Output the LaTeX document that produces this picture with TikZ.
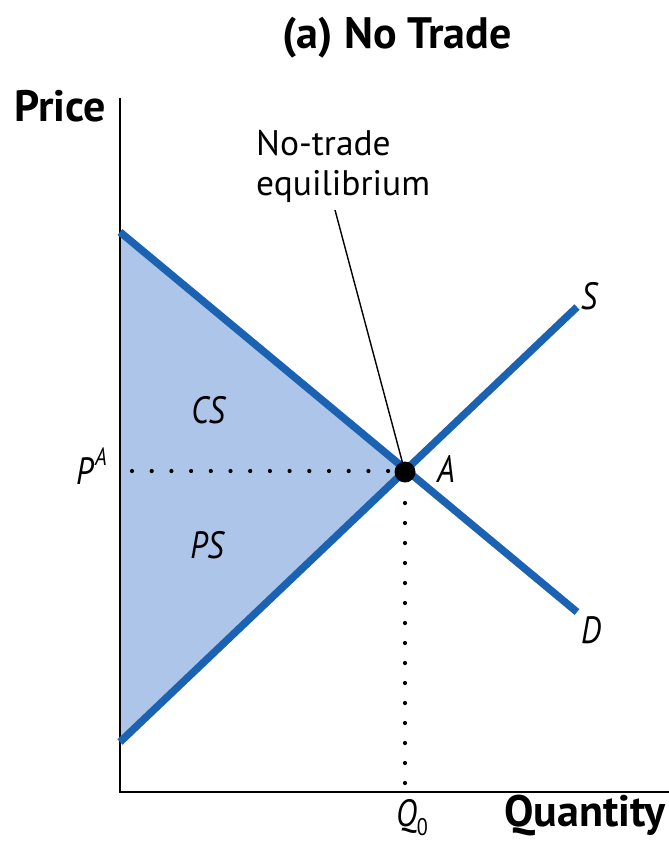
\documentclass[tikz,border=0pt]{standalone}
\usepackage{fontspec}
\setmainfont{PT Sans}
\newfontfamily\labfont{PT Sans}[FakeStretch=0.84]
\begin{document}
\begin{tikzpicture}[x=1pt,y=-1pt,
  curve/.style={line width=7.5pt,draw={rgb,255:red,27;green,99;blue,178}},
  axisline/.style={line width=1.5pt,black},
  dotline/.style={line width=4.2pt,dash pattern=on 0pt off 19.7pt,line cap=round},
  lbl/.style={font=\labfont\fontsize{38}{40}\selectfont\itshape,inner sep=0pt},
  axlbl/.style={font=\fontsize{44}{46}\selectfont\bfseries,inner sep=0pt},
  note/.style={font=\fontsize{35.5}{40}\selectfont,inner sep=0pt,align=left}]
\useasboundingbox (0,0) rectangle (669,844);
% fill
\fill[fill={rgb,255:red,172;green,197;blue,232}] (120,232) -- (405,472) -- (120,742) -- cycle;
% axes
\coordinate (ytop) at (120,98);
\coordinate (orig) at (120,792);
\coordinate (xend) at (669,792);
\draw[axisline] (ytop) -- (orig) -- (xend);
% curves
\coordinate (d0) at (120,232);
\coordinate (d1) at (577,612);
\coordinate (s0) at (120,742);
\coordinate (s1) at (577,307);
\draw[curve] (d0) -- (d1);
\draw[curve] (s0) -- (s1);
% equilibrium
\coordinate (eq) at (405,472);
\coordinate (ph) at (132,471);
\coordinate (ph2) at (390,471);
\coordinate (qv0) at (405,503);
\coordinate (qv) at (405,784);
\draw[dotline] (ph) -- (ph2);
\draw[dotline,dash pattern=on 0pt off 20pt] (qv0) -- (qv);
\node[circle,fill=black,minimum size=21pt,inner sep=0pt] (A) at (eq) {};
% leader
\coordinate (lead) at (335,210);
\draw[line width=1.4pt] (lead) -- (A.center);
% labels
\node[font=\fontsize{44}{46}\selectfont\bfseries,inner sep=0pt,anchor=base] (title) at (397,48) {(a) No Trade};
\node[axlbl,anchor=base west] (price) at (14,121) {Price};
\node[axlbl,anchor=base east] (qty) at (666,826) {Quantity};
\node[note,anchor=base west] (nt) at (256,195) {No-trade\\equilibrium};
\node[lbl] (cs) at (208,410) {CS};
\node[lbl] (ps) at (207,545) {PS};
\node[lbl] (Alab) at (446,469) {A};
\node[lbl] (slab) at (589,296) {S};
\node[lbl] (dlab) at (591,630) {D};
\node[lbl,anchor=base east] (pa) at (107,484) {P\kern2pt\raisebox{0.5em}{\fontsize{25}{27}\selectfont A}};
\node[lbl,anchor=base west] (q0) at (396,826) {Q\raisebox{-0.25em}{\fontsize{24}{26}\selectfont\upshape 0}};
\end{tikzpicture}
\end{document}
